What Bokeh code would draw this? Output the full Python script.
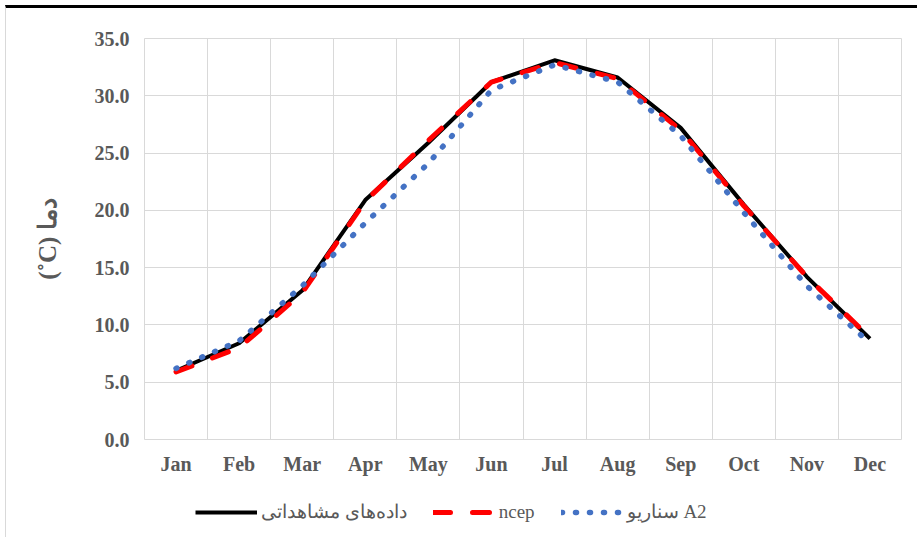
from bokeh.plotting import figure
from bokeh.layouts import column
from bokeh.models import (FixedTicker, Range1d, Legend, LegendItem,
                          NumeralTickFormatter, CustomJSTickFormatter)
from bokeh.embed import file_html
from bokeh.resources import INLINE

months = ["Jan", "Feb", "Mar", "Apr", "May", "Jun",
          "Jul", "Aug", "Sep", "Oct", "Nov", "Dec"]
observed = [6.0, 8.4, 13.0, 20.9, 25.9, 31.2, 33.1, 31.6, 27.2, 20.5, 14.2, 8.8]
ncep = [5.9, 8.0, 12.8, 20.8, 26.1, 31.2, 32.9, 31.5, 27.0, 20.4, 14.2, 8.9]
a2 = [6.2, 8.6, 13.4, 18.9, 24.1, 30.5, 32.7, 31.2, 26.5, 19.8, 13.4, 8.4]
y_ticks = [0, 5, 10, 15, 20, 25, 30, 35]
series_labels = ["داده‌های مشاهداتی", "ncep", "سناریو A2"]
y_title = "(˚C) دما"

xs = [i + 0.5 for i in range(len(months))]

styles = [
    dict(line_color="#000000", line_width=4, line_join="round"),
    dict(line_color="#ff0000", line_width=5, line_dash="17 22",
         line_cap="round", line_join="round"),
    dict(line_color="#4472c4", line_width=5.5, line_dash="1 13",
         line_cap="round", line_join="round"),
]
series = [observed, ncep, a2]

fig = figure(width=911, height=475, output_backend="svg", toolbar_location=None,
             x_range=Range1d(0, len(months)), y_range=Range1d(0, 35),
             min_border_left=138, min_border_right=16, min_border_top=30,
             min_border_bottom=44)

for vals, st in zip(series, styles):
    fig.line(xs, vals, **st)

grid_col = "#d9d9d9"
fig.xgrid.ticker = FixedTicker(ticks=list(range(len(months) + 1)))
fig.ygrid.ticker = FixedTicker(ticks=y_ticks)
fig.grid.grid_line_color = grid_col
fig.grid.grid_line_width = 1
fig.outline_line_color = grid_col

fig.xaxis.ticker = FixedTicker(ticks=xs)
fig.xaxis.formatter = CustomJSTickFormatter(args=dict(months=months),
                                            code="return months[Math.floor(tick)];")
fig.yaxis.ticker = FixedTicker(ticks=y_ticks)
fig.yaxis.formatter = NumeralTickFormatter(format="0.0")

for ax in (fig.xaxis[0], fig.yaxis[0]):
    ax.axis_line_color = None
    ax.major_tick_line_color = None
    ax.minor_tick_line_color = None
    ax.major_tick_out = 0
    ax.major_tick_in = 0
    ax.major_label_text_font = "Liberation Serif"
    ax.major_label_text_font_style = "bold"
    ax.major_label_text_color = "#595959"

fig.xaxis.major_label_text_font_size = "20px"
fig.xaxis.major_label_standoff = 13
fig.yaxis.major_label_text_font_size = "20px"
fig.yaxis.major_label_standoff = 15

fig.yaxis.axis_label = y_title
fig.yaxis.axis_label_text_font = "Liberation Serif"
fig.yaxis.axis_label_text_font_style = "bold"
fig.yaxis.axis_label_text_font_size = "25px"
fig.yaxis.axis_label_text_color = "#595959"
fig.yaxis.axis_label_standoff = 31

# legend strip below the chart (series drawn out of its visible ranges)
lp = figure(width=911, height=54, output_backend="svg", toolbar_location=None,
            x_range=Range1d(100, 200), y_range=Range1d(100, 200),
            x_axis_location=None, y_axis_location=None,
            min_border_left=0, min_border_right=0, min_border_top=0,
            min_border_bottom=0)
lp.grid.visible = False
lp.outline_line_color = None
leg_renderers = [lp.line(xs, vals, **st) for vals, st in zip(series, styles)]

legend = Legend(items=[LegendItem(label=lab, renderers=[r])
                       for lab, r in zip(series_labels, leg_renderers)],
                orientation="horizontal", location=(51, 14))
legend.glyph_width = 62
legend.label_standoff = 4
legend.spacing = 26
legend.padding = 0
legend.margin = 0
legend.border_line_color = None
legend.background_fill_alpha = 0
legend.label_text_font = "Liberation Serif"
legend.label_text_font_size = "19px"
legend.label_text_color = "#595959"
lp.add_layout(legend)

p = column(fig, lp, spacing=0)
p.styles = {"margin-top": "5px", "margin-left": "5px",
            "border-top": "3px solid #000000", "border-left": "1px solid #d9d9d9"}

open("out.html", "w").write(file_html(p, INLINE))
